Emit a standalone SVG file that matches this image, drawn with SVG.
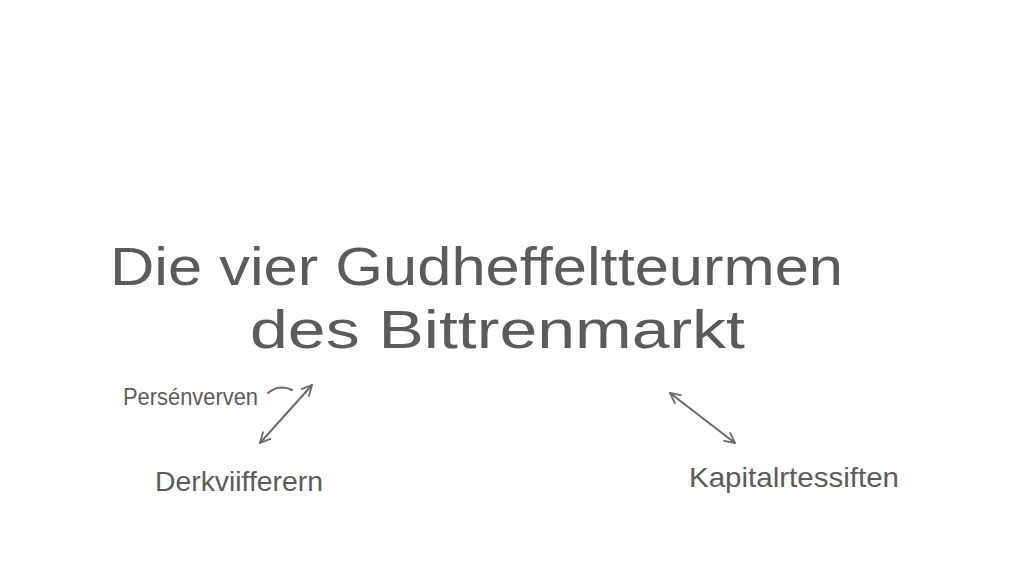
<svg xmlns="http://www.w3.org/2000/svg" width="1024" height="585" viewBox="0 0 1024 585">
  <style>
    .t { font-family: "Liberation Sans", Arial, sans-serif; fill: #5b5b5b; }
    .title { font-size: 54px; }
    .lbl { font-size: 24px; }
    .lbl2 { font-size: 28px; }
    .conn { stroke: #6a6a6a; stroke-width: 2; fill: none; stroke-linecap: round; }
  </style>
  <defs>
    <marker id="open" viewBox="0 0 12 12" refX="11" refY="6" markerWidth="12" markerHeight="12" markerUnits="userSpaceOnUse" orient="auto-start-reverse">
      <path d="M1,1 L11,6 L1,11" fill="none" stroke="#6a6a6a" stroke-width="1.8" stroke-linecap="round" stroke-linejoin="round"/>
    </marker>
  </defs>
  <rect width="1024" height="585" fill="#ffffff"/>
  <g id="title">
    <text class="t title" x="110" y="285" textLength="733" lengthAdjust="spacingAndGlyphs">Die vier Gudheffeltteurmen</text>
    <text class="t title" x="250" y="348" textLength="495" lengthAdjust="spacingAndGlyphs">des Bittrenmarkt</text>
  </g>
  <g id="persenverven">
    <text class="t lbl" x="123" y="405" textLength="135" lengthAdjust="spacingAndGlyphs">Persénverven</text>
  </g>
  <g id="derkviifferern">
    <text class="t lbl2" x="155" y="491" textLength="168" lengthAdjust="spacingAndGlyphs">Derkviifferern</text>
  </g>
  <g id="kapitalrtessiften">
    <text class="t lbl2" x="689" y="487" textLength="210" lengthAdjust="spacingAndGlyphs">Kapitalrtessiften</text>
  </g>
  <g id="connectors">
    <path class="conn" d="M268,393 Q279,384 292,390"/>
    <path class="conn" d="M312,385 L260,443" marker-start="url(#open)" marker-end="url(#open)"/>
    <path class="conn" d="M670,393 L735,443" marker-start="url(#open)" marker-end="url(#open)"/>
  </g>
</svg>
